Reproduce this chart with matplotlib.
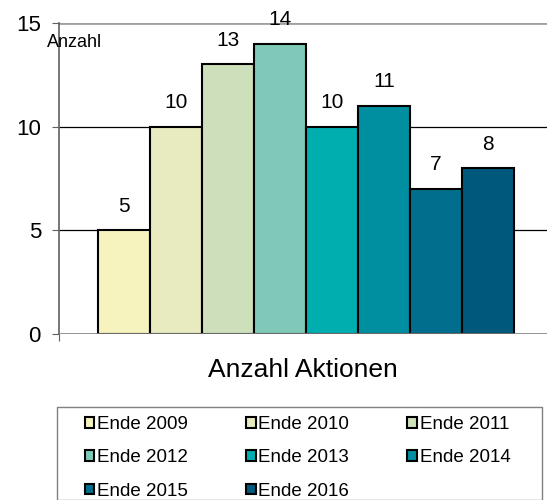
import matplotlib.pyplot as plt
from matplotlib.patches import Patch, Rectangle

plt.rcParams['font.family'] = ['Liberation Sans', 'DejaVu Sans']

categories = ["Ende 2009", "Ende 2010", "Ende 2011", "Ende 2012",
              "Ende 2013", "Ende 2014", "Ende 2015", "Ende 2016"]
values = [5, 10, 13, 14, 10, 11, 7, 8]
colors = ["#F7F3BE", "#E8EBC0", "#CDE0BB", "#80C9B8",
          "#00AEB0", "#008FA0", "#006E8C", "#00587C"]
yticks = [0, 5, 10, 15]

fig = plt.figure(figsize=(5.47, 5.0), dpi=100)
ax = fig.add_axes([59 / 547, 1 - 334 / 500, 1 - 59 / 547, (334 - 23) / 500])

x = list(range(len(values)))
ax.bar(x, values, width=1.0, color=colors, edgecolor="black", linewidth=1.5, zorder=3)
for xi, v in zip(x, values):
    ax.text(xi, v + 0.7, str(v), ha="center", va="bottom", fontsize=15)

# gridlines
for t in yticks[1:3]:
    ax.axhline(t, color="black", linewidth=0.9, zorder=1)
ax.axhline(15, color="#A0A0A0", linewidth=2, zorder=1)
ax.axhline(0, color="#808080", linewidth=1.2, zorder=4)

ax.set_xlim(-1.25, 8.13)
ax.set_ylim(0, 15)
ax.set_yticks(yticks)
ax.set_yticklabels([str(t) for t in yticks], fontsize=16)
ax.tick_params(axis="y", direction="out", length=5, color="#606060", pad=8)
ax.set_xticks([-1.25])
ax.set_xticklabels([""])
ax.tick_params(axis="x", direction="out", length=5, color="#606060")

for s in ["top", "right", "bottom"]:
    ax.spines[s].set_visible(False)
ax.spines["left"].set_color("#606060")
ax.spines["left"].set_linewidth(1.2)

ax.text(-1.48, 14.05, "Anzahl", fontsize=13, ha="left", va="center", zorder=5)
ax.set_xlabel("Anzahl Aktionen", fontsize=19, labelpad=9)

# legend filled row by row, like the original
order = [0, 3, 6, 1, 4, 7, 2, 5]
handles = [Patch(facecolor=colors[i], edgecolor="black", linewidth=1.5) for i in order]
labels = [categories[i] for i in order]
fig.legend(handles, labels, loc="upper left",
           bbox_to_anchor=(85 / 547, 1 - 416 / 500),
           ncol=3, fontsize=13.5, frameon=False,
           handlelength=0.5, handleheight=0.5, handletextpad=0.15,
           labelspacing=0.87, borderaxespad=0, borderpad=0,
           columnspacing=3.1)
fig.patches.append(Rectangle((57 / 547, 0), (542 - 57) / 547, (500 - 407) / 500,
                             transform=fig.transFigure, fill=False,
                             edgecolor="#808080", linewidth=1.0))

fig.savefig("out.png", dpi=100)
